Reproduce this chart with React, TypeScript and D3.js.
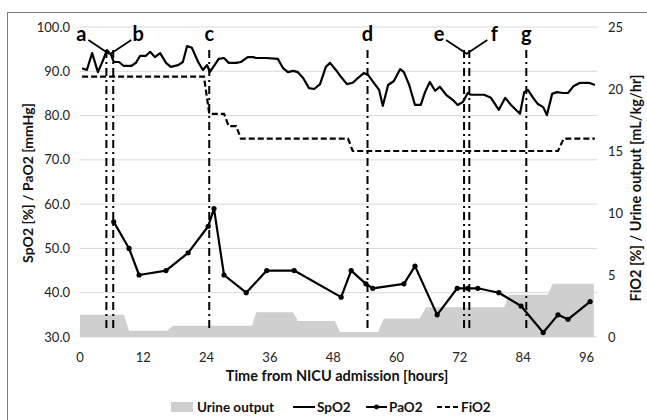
import React from 'react';
import * as d3 from 'd3';

// time axis (hours) and the two value axes
const xTicks = [0, 12, 24, 36, 48, 60, 72, 84, 96];
const leftTicks = [30, 40, 50, 60, 70, 80, 90, 100];
const rightTicks = [0, 5, 10, 15, 20, 25];

// SpO2 [%] - left axis, [hour, value]
const spo2: [number, number][] = [
  [0.4, 90.7], [1.3, 90.3], [2.3, 94.1], [3.4, 89.8], [4.4, 92.6], [5.1, 94.8],
  [5.9, 93.7], [6.4, 92.1], [7.4, 92.1], [8.3, 91.2], [9.7, 91.2], [10.6, 91.9],
  [11.4, 93.5], [12.5, 93.5], [13.3, 94.4], [14.2, 93.2], [15.2, 94.1], [16.3, 91.9],
  [17.2, 91.0], [18.6, 91.4], [19.5, 92.1], [20.3, 95.7], [21.2, 95.3], [22.4, 92.1],
  [23.3, 90.3], [24.1, 91.4], [24.6, 89.8], [26.3, 92.8], [27.3, 93.0], [28.2, 91.9],
  [29.6, 91.9], [30.5, 92.1], [31.8, 93.2], [32.8, 93.2], [33.4, 93.0], [35.3, 93.0],
  [37.5, 92.8], [38.5, 90.7], [39.4, 89.8], [40.4, 90.1], [41.3, 89.8], [42.3, 88.5],
  [43.4, 86.2], [44.4, 86.0], [45.5, 87.1], [46.6, 91.0], [47.4, 91.9], [48.5, 90.3],
  [49.5, 88.7], [50.6, 87.1], [51.7, 87.4], [52.7, 88.5], [53.8, 89.6], [54.6, 89.2],
  [55.7, 87.4], [56.7, 85.8], [57.4, 82.2], [58.4, 86.9], [59.5, 87.8], [60.7, 90.5],
  [61.4, 89.8], [62.4, 86.9], [63.5, 82.4], [64.6, 82.4], [65.4, 85.3], [66.3, 87.6],
  [67.3, 85.6], [68.2, 86.5], [69.4, 84.7], [70.7, 83.5], [71.6, 82.4], [72.6, 83.1],
  [73.5, 85.1], [74.1, 84.7], [74.7, 84.7], [76.6, 84.7], [77.9, 84.0], [79.4, 81.3],
  [80.6, 84.0], [81.7, 82.4], [83.4, 80.4], [84.2, 85.3], [84.9, 85.8], [85.9, 84.0],
  [86.8, 82.6], [87.8, 81.9], [88.5, 80.1], [89.5, 84.9], [90.4, 85.3], [91.5, 85.1],
  [92.5, 85.1], [93.6, 86.7], [94.8, 87.4], [96.5, 87.4], [97.6, 86.9],
];

// PaO2 [mmHg] - left axis
const pao2: [number, number][] = [
  [6.4, 56], [9.3, 50], [11.2, 44], [16.3, 45], [20.5, 49], [24.3, 55], [25.4, 59],
  [27.3, 44], [31.5, 40], [35.4, 45], [40.6, 45], [49.5, 39], [51.4, 45], [54.2, 42],
  [55.5, 41], [61.4, 42], [63.5, 46], [67.7, 35], [71.5, 41], [73.5, 41], [75.4, 41],
  [79.4, 40], [83.6, 37], [87.8, 31], [90.6, 35], [92.5, 34], [96.7, 38],
];

// FiO2 [%] - right axis
const fio2: [number, number][] = [
  [0.4, 21], [23.5, 21], [24.5, 18], [27.3, 18], [28.2, 17], [29.6, 17], [30.5, 16],
  [50.8, 16], [51.7, 15], [90.6, 15], [91.7, 16], [97.6, 16],
];

// Urine output [mL/kg/hr] - right axis
const urine: [number, number][] = [
  [0, 1.8], [8.3, 1.8], [9.3, 0.5], [16.5, 0.5], [17.6, 0.9], [32.6, 0.9], [33.4, 2.0],
  [40.4, 2.0], [41.3, 1.3], [48.3, 1.3], [49.3, 0.4], [56.5, 0.4], [57.6, 1.5],
  [64.4, 1.5], [65.6, 2.4], [80.4, 2.4], [81.3, 3.4], [88.7, 3.4], [89.6, 4.3], [97.4, 4.3],
];

// clinical events, side = where the letter sits relative to its line
const events = [
  { label: 'a', hour: 5.0, side: -1 },
  { label: 'b', hour: 6.3, side: 1 },
  { label: 'c', hour: 24.5, side: 0 },
  { label: 'd', hour: 54.5, side: 0 },
  { label: 'e', hour: 72.8, side: -1 },
  { label: 'f', hour: 73.8, side: 1 },
  { label: 'g', hour: 84.6, side: 0 },
];

const FONT = "Lato, 'Open Sans', sans-serif";

export default function App() {
  const W = 647, H = 420;
  const left = 80, right = 597, top = 27, bottom = 337;

  const x = d3.scaleLinear().domain([0, 98]).range([left, right]);
  const yL = d3.scaleLinear().domain([30, 100]).range([bottom, top]);
  const yR = d3.scaleLinear().domain([0, 25]).range([bottom, top]);

  const lineL = d3.line<[number, number]>().x(d => x(d[0])).y(d => yL(d[1]));
  const lineR = d3.line<[number, number]>().x(d => x(d[0])).y(d => yR(d[1]));
  const area = d3.area<[number, number]>()
    .x(d => x(d[0]))
    .y0(yR(0))
    .y1(d => yR(d[1]));

  const lineTop = top + 23, lineBottom = bottom - 6;

  return (
    <svg width={W} height={H} style={{ position: 'absolute', left: 0, top: 0, background: '#fff' }}
      fontFamily={FONT}>
      <rect x={7.5} y={12.5} width={W + 10} height={H + 10} fill="none" stroke="#7f7f7f" strokeWidth={1} />

      {/* gridlines */}
      {leftTicks.map(t => (
        <line key={t} x1={left} x2={right} y1={yL(t)} y2={yL(t)} stroke="#d9d9d9" strokeWidth={1} />
      ))}

      <path d={area(urine) || ''} fill="#cfcfcf" />

      {/* event markers */}
      {events.map(e => {
        const ex = x(e.hour);
        return (
          <g key={e.label}>
            <line x1={ex} x2={ex} y1={lineTop} y2={lineBottom} stroke="#000" strokeWidth={2}
              strokeDasharray="8,4,2,4" />
            <text x={ex + e.side * 25} y={41} fontSize={20} fontWeight="bold" textAnchor="middle"
              fill="#000">{e.label}</text>
            {e.side !== 0 && (
              <line x1={ex + e.side * 18} y1={40} x2={ex - e.side * 3} y2={54} stroke="#000"
                strokeWidth={1.8} />
            )}
          </g>
        );
      })}

      <path d={lineR(fio2) || ''} fill="none" stroke="#000" strokeWidth={2.2} strokeDasharray="6,3" />
      <path d={lineL(spo2) || ''} fill="none" stroke="#000" strokeWidth={2.2} strokeLinejoin="round" />
      <path d={lineL(pao2) || ''} fill="none" stroke="#000" strokeWidth={2.2} strokeLinejoin="round" />
      {pao2.map((d, i) => (
        <circle key={i} cx={x(d[0])} cy={yL(d[1])} r={2.6} fill="#000" />
      ))}

      {/* axes labels */}
      {leftTicks.map(t => (
        <text key={t} x={70} y={yL(t)} dy="0.35em" textAnchor="end" fontSize={13} fill="#222">
          {d3.format('.1f')(t)}
        </text>
      ))}
      {rightTicks.map(t => (
        <text key={t} x={608} y={yR(t)} dy="0.35em" textAnchor="start" fontSize={13} fill="#222">
          {t}
        </text>
      ))}
      {xTicks.map(t => (
        <text key={t} x={x(t)} y={357} dy="0.35em" textAnchor="middle" fontSize={13} fill="#222">
          {t}
        </text>
      ))}

      <text x={337} y={376} dy="0.35em" textAnchor="middle" fontSize={14.5} fontWeight="bold" fill="#111">
        Time from NICU admission [hours]
      </text>
      <text transform="translate(28,183) rotate(-90)" dy="0.35em" textAnchor="middle" fontSize={14}
        fontWeight="bold" fill="#111">
        SpO2 [%] / PaO2 [mmHg]
      </text>
      <text transform="translate(636,188) rotate(-90)" dy="0.35em" textAnchor="middle" fontSize={14.5}
        fontWeight="bold" fill="#111">
        FiO2 [%] / Urine output [mL/kg/hr]
      </text>

      {/* legend */}
      <g fontSize={13.5} fontWeight="bold" fill="#111">
        <rect x={171} y={402} width={22} height={10} fill="#cfcfcf" />
        <text x={197} y={407} dy="0.35em">Urine output</text>
        <line x1={293} x2={315} y1={407} y2={407} stroke="#000" strokeWidth={2} />
        <text x={317} y={407} dy="0.35em">SpO2</text>
        <line x1={366} x2={387} y1={407} y2={407} stroke="#000" strokeWidth={2} />
        <circle cx={376.5} cy={407} r={2.4} fill="#000" />
        <text x={389} y={407} dy="0.35em">PaO2</text>
        <line x1={437} x2={458} y1={407} y2={407} stroke="#000" strokeWidth={2} strokeDasharray="5,3" />
        <text x={461} y={407} dy="0.35em">FiO2</text>
      </g>
    </svg>
  );
}
